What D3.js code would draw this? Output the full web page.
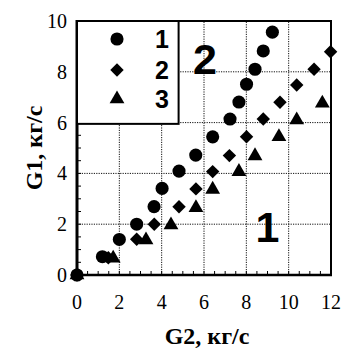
<!DOCTYPE html>
<html>
<head>
<meta charset="utf-8">
<script src="https://cdn.jsdelivr.net/npm/d3@7"></script>
<style>
  body { margin: 0; background: #fff; }
  svg { display: block; }
</style>
</head>
<body>
<svg id="chart"></svg>
<script>
// values
var s1x = [0, 1.2, 2.0, 2.82, 3.64, 4.02, 4.82, 5.61, 6.41, 7.23, 7.65, 8.01, 8.41, 8.80, 9.23];
var s1y = [0, 0.72, 1.40, 2.0, 2.69, 3.41, 4.09, 4.72, 5.44, 6.14, 6.81, 7.51, 8.10, 8.82, 9.56];
var s2x = [0, 1.48, 2.82, 3.65, 4.82, 5.62, 6.41, 7.2, 8.01, 8.80, 9.59, 10.38, 11.2, 11.98];
var s2y = [0, 0.68, 1.41, 2.0, 2.69, 3.39, 4.07, 4.7, 5.44, 6.14, 6.8, 7.48, 8.1, 8.79];
var s3x = [0, 1.71, 3.26, 4.44, 5.62, 6.41, 7.65, 8.41, 9.54, 10.38, 11.59];
var s3y = [0, 0.66, 1.38, 1.97, 2.65, 3.37, 4.07, 4.69, 5.44, 6.1, 6.76];
var xTicks = [0, 2, 4, 6, 8, 10, 12];
var yTicks = [0, 2, 4, 6, 8, 10];
var legendNames = ["1", "2", "3"];
var zoneLabels = [{t: "2", x: 6.05, y: 7.92}, {t: "1", x: 9.0, y: 1.3}];

var W = 346, H = 351;
var svg = d3.select("#chart").attr("width", W).attr("height", H);

var x = d3.scaleLinear().domain([0, 12]).range([77, 331]);
var y = d3.scaleLinear().domain([0, 10]).range([275, 21]);

var serif = "'Times New Roman', 'Liberation Serif', serif";
var sans = "'Liberation Sans Narrow', 'Arial Narrow', 'Liberation Sans', Arial, sans-serif";

// dotted grid
var grid = svg.append("g");
grid.selectAll("line.gx").data(xTicks.slice(1, -1)).enter().append("line")
    .attr("x1", d => x(d)).attr("x2", d => x(d))
    .attr("y1", y(0)).attr("y2", y(10))
    .attr("stroke", "#111").attr("stroke-width", 1).attr("stroke-dasharray", "1.2,1.2");
grid.selectAll("line.gy").data(yTicks.slice(1, -1)).enter().append("line")
    .attr("x1", x(0)).attr("x2", x(12))
    .attr("y1", d => y(d)).attr("y2", d => y(d))
    .attr("stroke", "#111").attr("stroke-width", 1).attr("stroke-dasharray", "1.2,1.2");

// minor ticks every 0.5, pointing inward
var minor = d3.range(0.5, 12, 0.5);
svg.append("g").selectAll("line").data(minor).enter().append("line")
    .attr("x1", d => x(d)).attr("x2", d => x(d))
    .attr("y1", y(0)).attr("y2", y(0) - 4)
    .attr("stroke", "#000").attr("stroke-width", 1);
svg.append("g").selectAll("line").data(d3.range(0.5, 10, 0.5)).enter().append("line")
    .attr("x1", x(0)).attr("x2", x(0) + 4)
    .attr("y1", d => y(d)).attr("y2", d => y(d))
    .attr("stroke", "#000").attr("stroke-width", 1);

// frame
svg.append("rect")
    .attr("x", x(0)).attr("y", y(10))
    .attr("width", x(12) - x(0)).attr("height", y(0) - y(10))
    .attr("fill", "none").attr("stroke", "#000").attr("stroke-width", 2);
svg.append("line").attr("x1", x(0)).attr("x2", x(0)).attr("y1", y(10) - 1).attr("y2", y(0) + 1)
    .attr("stroke", "#000").attr("stroke-width", 3);
svg.append("line").attr("x1", x(0)).attr("x2", x(12) + 1).attr("y1", y(0)).attr("y2", y(0))
    .attr("stroke", "#000").attr("stroke-width", 2.5);

// marker shapes: circle, square turned 45deg, triangle
var shapes = [
  {type: d3.symbolCircle, size: 135, rot: 0},
  {type: d3.symbolSquare, size: 90, rot: 45},
  {type: d3.symbolTriangle, size: 95, rot: 0}
];

// legend box
var lg = svg.append("g");
lg.append("rect")
    .attr("x", x(0)).attr("y", y(10))
    .attr("width", x(4.8) - x(0)).attr("height", y(5.95) - y(10))
    .attr("fill", "#fff").attr("stroke", "#000").attr("stroke-width", 2);

var legY = [39, 70, 99];
legendNames.forEach(function (n, i) {
  lg.append("path")
    .attr("d", d3.symbol().type(shapes[i].type).size(shapes[i].size))
    .attr("transform", "translate(117," + legY[i] + ") rotate(" + shapes[i].rot + ")")
    .attr("fill", "#000");
  lg.append("text")
    .attr("x", 162).attr("y", legY[i] + 9)
    .attr("text-anchor", "middle")
    .attr("font-family", sans).attr("font-weight", "bold").attr("font-size", 25)
    .text(n);
});

// zone labels
svg.selectAll("text.zone").data(zoneLabels).enter().append("text")
    .attr("x", d => x(d.x)).attr("y", d => y(d.y))
    .attr("text-anchor", "middle")
    .attr("font-family", sans).attr("font-weight", "bold").attr("font-size", 43)
    .text(d => d.t);

// markers
function plot(xs, ys, s) {
  svg.append("g").selectAll("path").data(xs).enter().append("path")
    .attr("d", d3.symbol().type(s.type).size(s.size))
    .attr("transform", (d, i) => "translate(" + x(d) + "," + y(ys[i]) + ") rotate(" + s.rot + ")")
    .attr("fill", "#000");
}
plot(s3x, s3y, shapes[2]);
plot(s2x, s2y, shapes[1]);
plot(s1x, s1y, shapes[0]);

// tick labels
svg.append("g").selectAll("text").data(xTicks).enter().append("text")
    .attr("x", d => x(d)).attr("y", 309)
    .attr("text-anchor", "middle")
    .attr("font-family", serif).attr("font-size", 20)
    .text(d => d);
svg.append("g").selectAll("text").data(yTicks).enter().append("text")
    .attr("x", 67).attr("y", d => y(d) + 7)
    .attr("text-anchor", "end")
    .attr("font-family", serif).attr("font-size", 20)
    .text(d => d);

// axis titles
svg.append("text")
    .attr("x", 207).attr("y", 344)
    .attr("text-anchor", "middle")
    .attr("font-family", serif).attr("font-weight", "bold").attr("font-size", 24)
    .text("G2, кг/с");
svg.append("text")
    .attr("transform", "translate(42,148) rotate(-90)")
    .attr("text-anchor", "middle")
    .attr("font-family", serif).attr("font-weight", "bold").attr("font-size", 24)
    .text("G1, кг/с");
</script>
</body>
</html>
